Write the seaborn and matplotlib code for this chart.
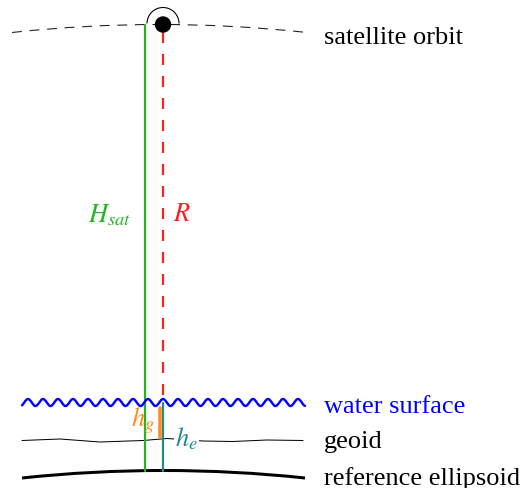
import matplotlib
matplotlib.use("Agg")
import matplotlib.pyplot as plt
import numpy as np
import seaborn as sns
from matplotlib.patches import Arc, Circle, Wedge

# diagram geometry, in picture pixels (y grows downward)
orbit_x0, orbit_x1, orbit_end_y, orbit_top_y = 12, 307, 33.5, 25.5

geoid_x = [22, 60, 100, 143, 167, 203, 233, 267, 303]
geoid_y = [441.5, 440, 443, 441.5, 439.5, 442, 442.5, 441, 441.5]

ellipsoid_x0, ellipsoid_x1, ellipsoid_end_y, ellipsoid_top_y = 22, 305, 479, 471.5

water_x0, water_x1, water_y = 22, 305, 403.5
wave_period, wave_amp = 15.0, 3.5

sat_x, sat_y = 163, 25.5
green_x, red_x, orange_x = 145, 163, 160

labels = ["satellite orbit", "water surface", "geoid", "reference ellipsoid"]
label_y = [38, 407, 442, 479]
label_colors = ["black", "#0000ff", "black", "black"]

GREEN, RED, BLUE = "#22b522", "#ff1f1f", "#0000ff"
ORANGE, TEAL = "#ff8c1a", "#1f8a96"

sns.set_theme(style="white")
plt.rcParams["font.family"] = ["Liberation Serif", "DejaVu Serif"]
plt.rcParams["mathtext.fontset"] = "stix"

px = 0.72  # one pixel in points at dpi 100
fig = plt.figure(figsize=(5.23, 4.89), dpi=100)
ax = fig.add_axes([0, 0, 1, 1])
ax.set_xlim(0, 523)
ax.set_ylim(489, 0)
ax.axis("off")


def big_arc(x0, x1, end_y, top_y, **kw):
    # circular arc through both ends and the top point
    half = (x1 - x0) / 2
    sag = end_y - top_y
    r = (half ** 2 + sag ** 2) / (2 * sag)
    cx, cy = (x0 + x1) / 2, top_y + r
    span = np.degrees(np.arcsin(half / r))
    return Arc((cx, cy), 2 * r, 2 * r, theta1=270 - span, theta2=270 + span, **kw)


def vline(x, y0, y1, **kw):
    sns.lineplot(x=[x, x], y=[y0, y1], sort=False, estimator=None, ax=ax, **kw)


# satellite orbit (dashed arc)
ax.add_patch(big_arc(orbit_x0, orbit_x1, orbit_end_y, orbit_top_y,
                     color="#222222", lw=1.1 * px, linestyle=(0, (9, 7)), zorder=2))

# vertical measuring lines
vline(green_x, sat_y, 472, color=GREEN, lw=2.2 * px, zorder=3)
vline(red_x, sat_y + 7, water_y - 2, color=RED, lw=2.2 * px, zorder=3)
ax.lines[-1].set_dashes([5, 5])
vline(red_x, water_y, 472, color=TEAL, lw=2.2 * px, zorder=3)
vline(orange_x, 409, 438, color=ORANGE, lw=3.5 * px, zorder=4)

# water surface (wavy)
wx = np.linspace(water_x0, water_x1, 600)
wy = water_y - wave_amp * np.cos(2 * np.pi * (wx - sat_x) / wave_period)
sns.lineplot(x=wx, y=wy, sort=False, estimator=None, ax=ax, color=BLUE,
             lw=2.4 * px, zorder=4)

# geoid and reference ellipsoid
sns.lineplot(x=geoid_x, y=geoid_y, sort=False, estimator=None, ax=ax,
             color="black", lw=1.0 * px, zorder=2)
ax.add_patch(big_arc(ellipsoid_x0, ellipsoid_x1, ellipsoid_end_y, ellipsoid_top_y,
                     color="black", lw=3.0 * px, zorder=2))

# satellite
ax.add_patch(Wedge((sat_x, sat_y - 1), 16, 180, 360, facecolor="white",
                   edgecolor="none", zorder=5))
ax.add_patch(Arc((sat_x, sat_y - 1), 32, 32, theta1=180, theta2=360,
                 color="black", lw=1.1 * px, zorder=6))
ax.add_patch(Circle((sat_x, sat_y), 7.5, color="black", zorder=7))

# labels
fs = 19
for txt, ty, col in zip(labels, label_y, label_colors):
    ax.text(324, ty, txt, color=col, fontsize=fs, va="center", ha="left")
ax.text(131, 215, r"$H_{sat}$", color=GREEN, fontsize=fs, va="center", ha="right")
ax.text(173, 215, r"$R$", color=RED, fontsize=fs, va="center", ha="left")
ax.text(155, 421, r"$h_g$", color=ORANGE, fontsize=fs, va="center", ha="right")
ax.text(175, 439, r"$h_e$", color=TEAL, fontsize=fs, va="center", ha="left",
        zorder=8, bbox=dict(facecolor="white", edgecolor="none", pad=1))

fig.savefig("out.png", dpi=100)
plt.close(fig)
